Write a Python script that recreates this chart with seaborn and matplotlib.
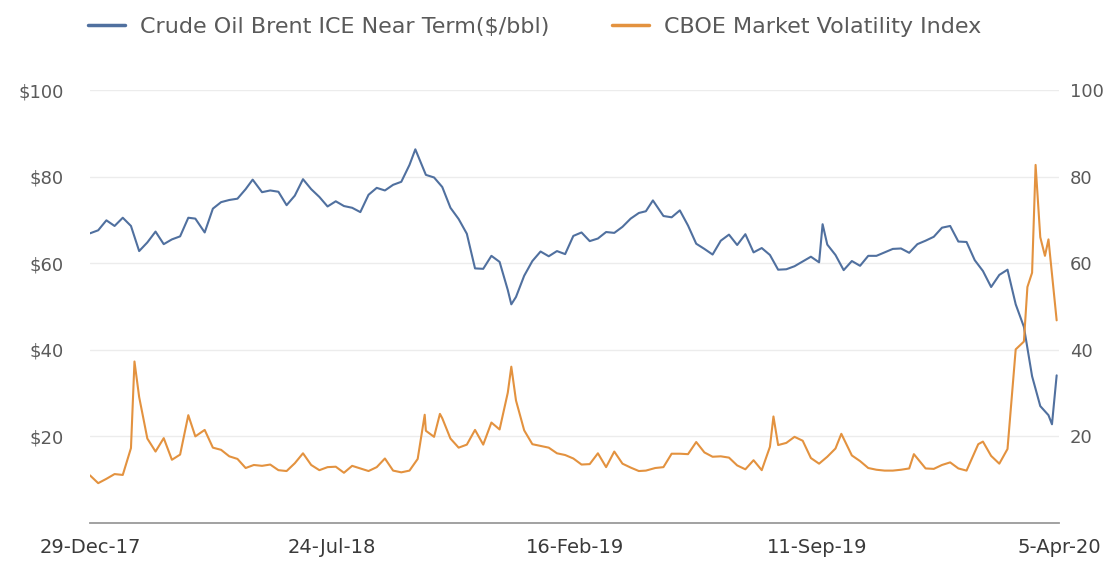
import matplotlib
matplotlib.use("Agg")
import matplotlib.pyplot as plt
import seaborn as sns
import pandas as pd
from matplotlib.lines import Line2D

brent_dates = [
    "2017-12-29", "2018-01-05", "2018-01-12", "2018-01-19", "2018-01-26", "2018-02-02", "2018-02-09",
    "2018-02-16", "2018-02-23", "2018-03-02", "2018-03-09", "2018-03-16", "2018-03-23", "2018-03-29",
    "2018-04-06", "2018-04-13", "2018-04-20", "2018-04-27", "2018-05-04", "2018-05-11", "2018-05-17",
    "2018-05-25", "2018-06-01", "2018-06-08", "2018-06-15", "2018-06-22", "2018-06-29", "2018-07-06",
    "2018-07-13", "2018-07-20", "2018-07-27", "2018-08-03", "2018-08-10", "2018-08-17", "2018-08-24",
    "2018-08-31", "2018-09-07", "2018-09-14", "2018-09-21", "2018-09-28", "2018-10-03", "2018-10-12",
    "2018-10-19", "2018-10-26", "2018-11-02", "2018-11-09", "2018-11-16", "2018-11-23", "2018-11-30",
    "2018-12-07", "2018-12-14", "2018-12-21", "2018-12-24", "2018-12-28", "2019-01-04", "2019-01-11",
    "2019-01-18", "2019-01-25", "2019-02-01", "2019-02-08", "2019-02-15", "2019-02-22", "2019-03-01",
    "2019-03-08", "2019-03-15", "2019-03-22", "2019-03-29", "2019-04-05", "2019-04-12", "2019-04-18",
    "2019-04-24", "2019-05-03", "2019-05-10", "2019-05-17", "2019-05-24", "2019-05-31", "2019-06-07",
    "2019-06-14", "2019-06-21", "2019-06-28", "2019-07-05", "2019-07-12", "2019-07-19", "2019-07-26",
    "2019-08-02", "2019-08-09", "2019-08-16", "2019-08-23", "2019-08-30", "2019-09-06", "2019-09-13",
    "2019-09-16", "2019-09-20", "2019-09-27", "2019-10-04", "2019-10-11", "2019-10-18", "2019-10-25",
    "2019-11-01", "2019-11-08", "2019-11-15", "2019-11-22", "2019-11-29", "2019-12-06", "2019-12-13",
    "2019-12-20", "2019-12-27", "2020-01-03", "2020-01-10", "2020-01-17", "2020-01-24", "2020-01-31",
    "2020-02-07", "2020-02-14", "2020-02-21", "2020-02-28", "2020-03-06", "2020-03-13", "2020-03-20",
    "2020-03-27", "2020-03-30", "2020-04-03",
]
brent_values = [
    66.9, 67.6, 69.9, 68.6, 70.5, 68.6, 62.8,
    64.8, 67.3, 64.4, 65.5, 66.2, 70.5, 70.3,
    67.1, 72.6, 74.1, 74.6, 74.9, 77.1, 79.3,
    76.4, 76.8, 76.5, 73.4, 75.6, 79.4, 77.1,
    75.3, 73.1, 74.3, 73.2, 72.8, 71.8, 75.8,
    77.4, 76.8, 78.1, 78.8, 82.7, 86.3, 80.4,
    79.8, 77.6, 72.8, 70.2, 66.8, 58.8, 58.7,
    61.7, 60.3, 53.8, 50.5, 52.2, 57.1, 60.5,
    62.7, 61.6, 62.8, 62.1, 66.3, 67.1, 65.1,
    65.7, 67.2, 67.0, 68.4, 70.3, 71.6, 72.0,
    74.5, 70.9, 70.6, 72.2, 68.7, 64.5, 63.3,
    62.0, 65.2, 66.6, 64.2, 66.7, 62.5, 63.5,
    61.9, 58.5, 58.6, 59.3, 60.4, 61.5, 60.2,
    69.0, 64.3, 61.9, 58.4, 60.5, 59.4, 61.7,
    61.7, 62.5, 63.3, 63.4, 62.4, 64.4, 65.2,
    66.1, 68.2, 68.6, 65.0, 64.9, 60.7, 58.2,
    54.5, 57.3, 58.5, 50.5, 45.3, 33.9, 27.0,
    24.9, 22.8, 34.1,
]

vix_dates = [
    "2017-12-29", "2018-01-05", "2018-01-12", "2018-01-19", "2018-01-26", "2018-02-02", "2018-02-05",
    "2018-02-09", "2018-02-16", "2018-02-23", "2018-03-02", "2018-03-09", "2018-03-16", "2018-03-23",
    "2018-03-29", "2018-04-06", "2018-04-13", "2018-04-20", "2018-04-27", "2018-05-04", "2018-05-11",
    "2018-05-18", "2018-05-25", "2018-06-01", "2018-06-08", "2018-06-15", "2018-06-22", "2018-06-29",
    "2018-07-06", "2018-07-13", "2018-07-20", "2018-07-27", "2018-08-03", "2018-08-10", "2018-08-17",
    "2018-08-24", "2018-08-31", "2018-09-07", "2018-09-14", "2018-09-21", "2018-09-28", "2018-10-05",
    "2018-10-11", "2018-10-12", "2018-10-19", "2018-10-24", "2018-10-26", "2018-11-02", "2018-11-09",
    "2018-11-16", "2018-11-23", "2018-11-30", "2018-12-07", "2018-12-14", "2018-12-21", "2018-12-24",
    "2018-12-28", "2019-01-04", "2019-01-11", "2019-01-18", "2019-01-25", "2019-02-01", "2019-02-08",
    "2019-02-15", "2019-02-22", "2019-03-01", "2019-03-08", "2019-03-15", "2019-03-22", "2019-03-29",
    "2019-04-05", "2019-04-12", "2019-04-18", "2019-04-26", "2019-05-03", "2019-05-10", "2019-05-17",
    "2019-05-24", "2019-05-31", "2019-06-07", "2019-06-14", "2019-06-21", "2019-06-28", "2019-07-05",
    "2019-07-12", "2019-07-19", "2019-07-26", "2019-08-02", "2019-08-05", "2019-08-09", "2019-08-16",
    "2019-08-23", "2019-08-30", "2019-09-06", "2019-09-13", "2019-09-20", "2019-09-27", "2019-10-02",
    "2019-10-11", "2019-10-18", "2019-10-25", "2019-11-01", "2019-11-08", "2019-11-15", "2019-11-22",
    "2019-11-29", "2019-12-03", "2019-12-13", "2019-12-20", "2019-12-27", "2020-01-03", "2020-01-10",
    "2020-01-17", "2020-01-27", "2020-01-31", "2020-02-07", "2020-02-14", "2020-02-21", "2020-02-28",
    "2020-03-06", "2020-03-09", "2020-03-13", "2020-03-16", "2020-03-20", "2020-03-24", "2020-03-27",
    "2020-04-03",
]
vix_values = [
    11.0, 9.2, 10.2, 11.3, 11.1, 17.3, 37.3,
    29.1, 19.5, 16.5, 19.6, 14.6, 15.8, 24.9,
    20.0, 21.5, 17.4, 16.9, 15.4, 14.8, 12.7,
    13.4, 13.2, 13.5, 12.2, 12.0, 13.8, 16.1,
    13.4, 12.2, 12.9, 13.0, 11.6, 13.2, 12.6,
    12.0, 12.9, 14.9, 12.1, 11.7, 12.1, 14.8,
    25.0, 21.3, 19.9, 25.2, 24.2, 19.5, 17.4,
    18.1, 21.5, 18.1, 23.2, 21.6, 30.1, 36.1,
    28.3, 21.4, 18.2, 17.8, 17.4, 16.1, 15.7,
    14.9, 13.5, 13.6, 16.1, 12.9, 16.5, 13.7,
    12.8, 12.0, 12.1, 12.7, 12.9, 16.0, 16.0,
    15.9, 18.7, 16.3, 15.3, 15.4, 15.1, 13.3,
    12.4, 14.5, 12.2, 17.6, 24.6, 18.0, 18.5,
    19.9, 19.0, 15.0, 13.7, 15.3, 17.2, 20.6,
    15.6, 14.3, 12.7, 12.3, 12.1, 12.1, 12.3,
    12.6, 15.9, 12.6, 12.5, 13.4, 14.0, 12.6,
    12.1, 18.2, 18.8, 15.5, 13.7, 17.1, 40.1,
    41.9, 54.5, 57.8, 82.7, 66.0, 61.7, 65.5,
    46.8,
]

tick_dates = ["2017-12-29", "2018-07-24", "2019-02-16", "2019-09-11", "2020-04-05"]
tick_labels = ["29-Dec-17", "24-Jul-18", "16-Feb-19", "11-Sep-19", "5-Apr-20"]
left_ticks = [20, 40, 60, 80, 100]
left_labels = ["$20", "$40", "$60", "$80", "$100"]
right_ticks = [20, 40, 60, 80, 100]
right_labels = ["20", "40", "60", "80", "100"]

brent = pd.DataFrame({"date": pd.to_datetime(brent_dates), "value": brent_values})
vix = pd.DataFrame({"date": pd.to_datetime(vix_dates), "value": vix_values})

BLUE = "#50709f"
ORANGE = "#e3923f"
TXT = "#5a5a5a"

sns.set_style("white")
plt.rcParams["font.family"] = ["DejaVu Sans"]

fig = plt.figure(figsize=(11.04, 5.63), dpi=100)
ax = fig.add_axes([90 / 1104, 1 - 523 / 563, (1059 - 90) / 1104, (523 - 90) / 563])
ax2 = ax.twinx()

sns.lineplot(data=brent, x="date", y="value", ax=ax, color=BLUE, linewidth=1.5)
sns.lineplot(data=vix, x="date", y="value", ax=ax2, color=ORANGE, linewidth=1.5)

x0 = pd.Timestamp("2017-12-29")
x1 = pd.Timestamp("2020-04-05")
for a in (ax, ax2):
    a.set_xlim(x0, x1)
    a.set_ylim(0, 100)
    a.set_xlabel("")
    a.set_ylabel("")
    for s in ("top", "right", "left", "bottom"):
        a.spines[s].set_visible(False)

ax.set_yticks(left_ticks)
ax.set_yticklabels(left_labels)
ax2.set_yticks(right_ticks)
ax2.set_yticklabels(right_labels)
ax.yaxis.grid(True, color="#ececec", linewidth=1)
ax.tick_params(axis="y", length=0, pad=19, labelsize=13, labelcolor=TXT)
ax2.tick_params(axis="y", length=0, pad=8, labelsize=13, labelcolor=TXT)

ax.spines["bottom"].set_visible(True)
ax.spines["bottom"].set_color("#9a9a9a")
ax.spines["bottom"].set_linewidth(1.3)
ax.set_xticks(pd.to_datetime(tick_dates))
ax.set_xticklabels(tick_labels)
ax.tick_params(axis="x", length=4, width=1.2, color="#8a8a8a", pad=7, labelsize=14, labelcolor="#3a3a3a")
ax2.tick_params(axis="x", length=0, labelbottom=False)

handles = [Line2D([0], [0], color=BLUE, lw=2.5), Line2D([0], [0], color=ORANGE, lw=2.5)]
fig.legend(handles, ["Crude Oil Brent ICE Near Term($/bbl)", "CBOE Market Volatility Index"],
           loc="center left", bbox_to_anchor=(68 / 1104, 1 - 27 / 563), ncol=2, frameon=False,
           fontsize=16, labelcolor=TXT, handlelength=1.67, columnspacing=2.8, handletextpad=0.68)

fig.savefig("out.png", dpi=100, facecolor="white")
